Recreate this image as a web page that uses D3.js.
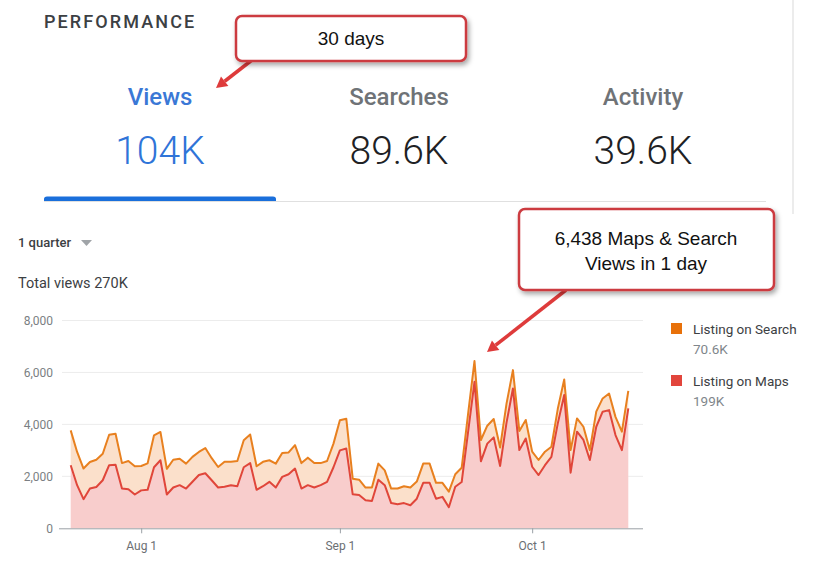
<!DOCTYPE html>
<html>
<head>
<meta charset="utf-8">
<script src="https://cdn.jsdelivr.net/npm/d3@7"></script>
<style>
  html, body { margin: 0; padding: 0; background: #fff; }
  svg { display: block; }
</style>
</head>
<body>
<svg id="chart" width="813" height="569"></svg>
<script>
// ---------- data ----------
const startDate = new Date(2019, 6, 21); // Jul 21, first day of the quarter shown
const mapsViews = [
  2430,1660,1120,1530,1590,1850,2430,2450,1530,1500,1300,1460,1480,2350,2620,1300,
  1570,1660,1530,1790,2050,2120,1850,1570,1600,1660,1620,2350,2510,1480,1620,1790,
  1570,1980,2080,2300,1530,1660,1570,1660,1790,2350,3000,3070,1310,1280,1080,1050,
  1870,1660,970,930,970,890,1140,1750,1750,1140,1210,810,1600,1780,3700,5640,
  2580,3260,3500,2400,4070,5380,3010,3460,2370,2050,2430,2750,4040,5130,2140,3720,
  3400,2630,3910,4490,4550,3590,3010,4620
];
const totalViews = [
  3770,2940,2300,2550,2640,2870,3600,3640,2510,2590,2390,2400,2500,3580,3710,2290,
  2640,2680,2490,2750,2940,3090,2700,2360,2560,2560,2590,3390,3610,2390,2560,2620,
  2490,2900,2920,3200,2510,2720,2510,2510,2590,3260,4160,4220,1910,1870,1570,1570,
  2490,2230,1530,1530,1620,1570,1800,2490,2490,1750,1750,1410,2080,2330,4400,6438,
  3400,3950,4210,3110,4800,6090,3750,4170,2950,2630,2950,3140,4600,5730,3010,4230,
  3910,3010,4490,5000,5190,4290,3720,5290
];
const searchViews = totalViews.map((t, i) => t - mapsViews[i]);
const yTicks = [0, 2000, 4000, 6000, 8000];
const xTickDates = [new Date(2019, 7, 1), new Date(2019, 8, 1), new Date(2019, 9, 1)];
const xTickLabels = ["Aug 1", "Sep 1", "Oct 1"];
const tabNames = ["Views", "Searches", "Activity"];
const tabValues = ["104K", "89.6K", "39.6K"];
const legendNames = ["Listing on Search", "Listing on Maps"];
const legendTotals = ["70.6K", "199K"];

const rows = mapsViews.map((m, i) => ({
  date: d3.timeDay.offset(startDate, i),
  maps: m,
  search: searchViews[i]
}));

// ---------- setup ----------
const svg = d3.select("#chart");
const ui = "Roboto, 'Noto Sans', Arial, sans-serif";
const callFont = "'Liberation Sans', Arial, sans-serif";

const defs = svg.append("defs");
const f = defs.append("filter").attr("id", "shadow").attr("x", "-20%").attr("y", "-30%").attr("width", "140%").attr("height", "170%");
f.append("feDropShadow").attr("dx", 2).attr("dy", 3).attr("stdDeviation", 2.5).attr("flood-color", "#000").attr("flood-opacity", 0.35);

// ---------- header / tabs ----------
svg.append("line").attr("x1", 793).attr("x2", 793).attr("y1", 0).attr("y2", 214)
  .attr("stroke", "#e6e6e6").attr("stroke-width", 1.5);

svg.append("text").attr("x", 44).attr("y", 28)
  .attr("font-family", ui).attr("font-size", 18).attr("font-weight", 500)
  .attr("letter-spacing", 2.1).attr("fill", "#3c4043").text("PERFORMANCE");

const tabX = [160, 399, 643];
tabNames.forEach((n, i) => {
  svg.append("text").attr("x", tabX[i]).attr("y", 105).attr("text-anchor", "middle")
    .attr("font-family", ui).attr("font-size", 24).attr("font-weight", 500)
    .attr("fill", i === 0 ? "#3a78d6" : "#6f7377").text(n);
  svg.append("text").attr("x", tabX[i]).attr("y", 164).attr("text-anchor", "middle")
    .attr("font-family", ui).attr("font-size", 39).attr("font-weight", 300)
    .attr("fill", i === 0 ? "#2f74d8" : "#202124").text(tabValues[i]);
});
svg.append("line").attr("x1", 44).attr("x2", 766).attr("y1", 201.5).attr("y2", 201.5)
  .attr("stroke", "#e0e0e0").attr("stroke-width", 1);
svg.append("path").attr("d", "M44,201 L44,199 Q44,196.5 47,196.5 L273,196.5 Q276,196.5 276,199 L276,201 Z")
  .attr("fill", "#1a6fdb");

// ---------- chart labels ----------
svg.append("text").attr("x", 18).attr("y", 247)
  .attr("font-family", ui).attr("font-size", 13).attr("font-weight", 500)
  .attr("fill", "#3c4043").text("1 quarter");
svg.append("path").attr("d", "M81,240 L92,240 L86.5,246 Z").attr("fill", "#a0a4a8");
svg.append("text").attr("x", 18).attr("y", 288)
  .attr("font-family", ui).attr("font-size", 14.5)
  .attr("fill", "#3c4043").text("Total views 270K");

// ---------- scales ----------
const x = d3.scaleTime()
  .domain([rows[0].date, rows[rows.length - 1].date])
  .range([70.7, 628.3]);
const y = d3.scaleLinear().domain([0, 8000]).range([528.3, 320.5]);

// gridlines
const grid = svg.append("g");
grid.selectAll("line").data(yTicks.filter(d => d > 0)).join("line")
  .attr("x1", 62).attr("x2", 643)
  .attr("y1", d => y(d)).attr("y2", d => y(d))
  .attr("stroke", "#ececec").attr("stroke-width", 1);

// y axis labels
const yAxis = d3.axisLeft(y).tickValues(yTicks).tickSize(0).tickPadding(0)
  .tickFormat(d3.format(","));
const gy = svg.append("g").attr("transform", "translate(53,0)").call(yAxis);
gy.select(".domain").remove();
gy.selectAll("text").attr("font-family", ui).attr("font-size", 12).attr("fill", "#7b7f83");

// ---------- stacked areas ----------
const stack = d3.stack().keys(["maps", "search"]);
const series = stack(rows);
const area = d3.area().x(d => x(d.data.date)).y0(d => y(d[0])).y1(d => y(d[1]));
const line = d3.line().x(d => x(d.data.date)).y(d => y(d[1]));

const fills = ["#f8cdcc", "#fbe0cb"];
const strokes = ["#e0463a", "#e8801f"];
series.forEach((s, i) => {
  svg.append("path").datum(s).attr("d", area).attr("fill", fills[i]);
});
series.slice().reverse().forEach((s, j) => {
  const i = series.length - 1 - j;
  svg.append("path").datum(s).attr("d", line).attr("fill", "none")
    .attr("stroke", strokes[i]).attr("stroke-width", 2).attr("stroke-linejoin", "round");
});

// x axis
const xAxis = d3.axisBottom(x).tickValues(xTickDates).tickSize(5).tickPadding(8)
  .tickFormat((d, i) => xTickLabels[i]);
const gx = svg.append("g").attr("transform", "translate(0,528.3)").call(xAxis);
gx.select(".domain").attr("d", "M59,0.5H643").attr("stroke", "#9aa0a6");
gx.selectAll(".tick line").attr("stroke", "#9aa0a6");
gx.selectAll("text").attr("font-family", ui).attr("font-size", 12).attr("fill", "#6b6f73");

// ---------- legend ----------
const legColors = ["#e8710a", "#e2453c"];
legendNames.forEach((n, i) => {
  const ly = 323 + i * 52;
  svg.append("rect").attr("x", 671).attr("y", ly).attr("width", 11).attr("height", 11)
    .attr("fill", legColors[i]);
  svg.append("text").attr("x", 693).attr("y", ly + 11)
    .attr("font-family", ui).attr("font-size", 13.5).attr("fill", "#3c4043").text(n);
  svg.append("text").attr("x", 693).attr("y", ly + 31)
    .attr("font-family", ui).attr("font-size", 13.5).attr("fill", "#80868b").text(legendTotals[i]);
});

// ---------- callouts ----------
function arrow(x1, y1, x2, y2) {
  const ang = Math.atan2(y2 - y1, x2 - x1);
  const hl = 11, hw = 6;
  const bx = x2 - hl * Math.cos(ang), by = y2 - hl * Math.sin(ang);
  svg.append("line").attr("x1", x1).attr("y1", y1).attr("x2", bx).attr("y2", by)
    .attr("stroke", "#de3b3b").attr("stroke-width", 3.5);
  const px = -Math.sin(ang) * hw, py = Math.cos(ang) * hw;
  svg.append("path")
    .attr("d", `M${x2},${y2} L${bx + px},${by + py} L${bx - px},${by - py} Z`)
    .attr("fill", "#de3b3b");
}
function callout(bx, by, bw, bh, lines, cx, baseY, lh) {
  svg.append("rect").attr("x", bx).attr("y", by).attr("width", bw).attr("height", bh)
    .attr("rx", 6).attr("fill", "#fff").attr("stroke", "#cc3b40").attr("stroke-width", 2.5)
    .attr("filter", "url(#shadow)");
  lines.forEach((t, i) => {
    svg.append("text").attr("x", cx).attr("y", baseY + i * lh).attr("text-anchor", "middle")
      .attr("font-family", callFont).attr("font-size", 19).attr("fill", "#111").text(t);
  });
}
arrow(252, 60, 216, 88);
callout(236, 16, 230, 45, ["30 days"], 351, 45, 0);
arrow(566, 290, 487, 352);
callout(519, 209, 255, 81, ["6,438 Maps & Search", "Views in 1 day"], 646, 245, 25);
</script>
</body>
</html>
